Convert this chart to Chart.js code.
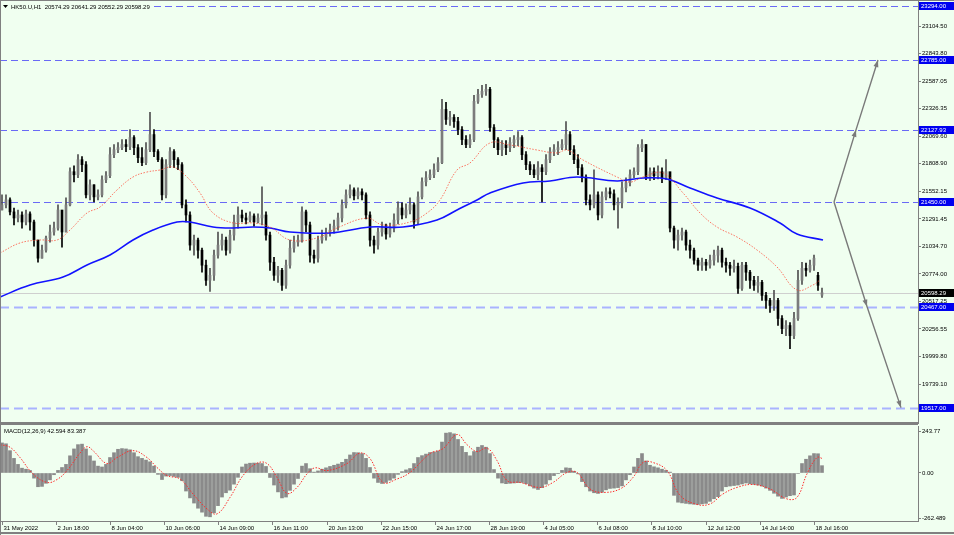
<!DOCTYPE html>
<html>
<head>
<meta charset="utf-8">
<script src="https://cdn.jsdelivr.net/npm/chart.js@4.4.1/dist/chart.umd.min.js"></script>
<style>
  html, body { margin: 0; padding: 0; background: #f0fff0; }
  #wrap { position: relative; width: 954px; height: 535px; overflow: hidden; }
  #main { position: absolute; left: 0; top: 0; }
  #macd { position: absolute; left: 0; top: 424px; }
</style>
</head>
<body>
<div id="wrap">
  <canvas id="main" width="954" height="424"></canvas>
  <canvas id="macd" width="954" height="111"></canvas>
</div>
<script>
var BG = '#f0fff0';
var FRAME = '#808080';
var FONT = '6px "Liberation Sans", Arial, sans-serif';

// HK50 H1 candles, one per bar
var opens = [
  21375,21423,21470,21357,21300,21328,21262,21338,21262,21092,
  20922,20997,21111,21168,21205,21375,21168,21423,21735,21706,
  21848,21801,21517,21612,21498,21517,21659,21697,21895,21942,
  21961,21990,21971,22056,21961,21867,21820,21942,22084,21924,
  21848,21517,21801,21924,21848,21801,21423,21328,21045,21092,
  20997,20856,20714,20761,20950,21045,21092,20997,21139,21262,
  21328,21300,21281,21319,21262,21300,21328,21139,20884,20761,
  20808,20667,20856,21016,21073,21092,21357,21234,20950,20922,
  21092,21120,21158,21186,21224,21300,21423,21517,21564,21508,
  21546,21517,21328,21092,21045,21168,21205,21149,21205,21281,
  21394,21328,21375,21423,21262,21498,21640,21678,21706,21753,
  21820,22320,22226,22245,22207,22131,22037,21990,22037,22396,
  22462,22491,22510,22150,22037,21942,21990,21961,22009,22037,
  22056,21895,21801,21753,21706,21772,21735,21848,21924,21942,
  21961,21990,22084,21942,21848,21772,21678,21470,21423,21517,
  21328,21498,21546,21527,21423,21442,21583,21631,21706,21735,
  21961,21990,21678,21735,21697,21735,21678,21735,21205,21092,
  21139,21168,21045,20997,20903,20856,20884,20856,20903,20950,
  20997,20884,20856,20827,20846,20638,20856,20790,20714,20667,
  20695,20572,20525,20478,20525,20355,20260,20289,20194,20355,
  20714,20827,20808,20856,20761,20574.29
];
var highs = [
  21517,21517,21489,21394,21375,21357,21375,21357,21281,21092,
  21045,21130,21234,21262,21423,21328,21489,21772,21791,21895,
  21876,21829,21659,21612,21564,21697,21735,21961,21990,22009,
  22037,22037,22131,22075,21990,21961,22009,22292,22131,21942,
  21867,21848,21961,21942,21867,21820,21470,21357,21139,21111,
  21016,20903,20827,20997,21168,21149,21120,21186,21328,21404,
  21375,21347,21357,21338,21338,21593,21357,21168,20931,20846,
  20827,20903,21092,21130,21139,21404,21375,21262,20997,21130,
  21186,21205,21243,21281,21347,21470,21564,21612,21583,21583,
  21574,21536,21357,21130,21205,21262,21243,21253,21338,21451,
  21442,21432,21489,21442,21546,21678,21735,21753,21810,21867,
  22415,22387,22302,22273,22245,22160,22075,22084,22453,22510,
  22547,22557,22528,22179,22056,22028,22028,22056,22075,22113,
  22075,21924,21829,21801,21829,21801,21895,21961,21990,22018,
  22037,22207,22113,21980,21895,21801,21706,21517,21753,21546,
  21546,21583,21583,21564,21489,21640,21678,21753,21772,21990,
  22037,21990,21772,21772,21791,21772,21848,21706,21224,21186,
  21205,21186,21092,21016,20922,20922,20912,20950,20997,21035,
  21016,20922,20884,20903,20875,20884,20884,20808,20752,20752,
  20714,20601,20544,20619,20544,20383,20336,20317,20412,20808,
  20884,20875,20903,20950,20790,20641.29
];
var lows = [
  21375,21394,21328,21234,21262,21205,21234,21186,21035,20884,
  20922,20979,21073,21139,21186,21026,21168,21413,21640,21678,
  21735,21489,21470,21451,21470,21498,21631,21678,21867,21914,
  21942,21924,21942,21895,21820,21791,21801,21924,21876,21829,
  21470,21489,21772,21772,21753,21394,21262,20997,20950,20922,
  20790,20667,20610,20714,20922,20997,20950,20969,21092,21205,
  21262,21243,21262,21224,21253,21234,21092,20808,20714,20695,
  20619,20638,20827,20979,21035,21073,21168,20884,20875,20884,
  21064,21092,21130,21158,21186,21262,21394,21489,21470,21479,
  21470,21290,21035,20969,21007,21130,21101,21120,21168,21243,
  21290,21300,21338,21205,21243,21479,21602,21659,21678,21735,
  21810,22179,22169,22150,22084,21990,21961,21961,22018,22377,
  22434,22453,22113,21961,21895,21886,21895,21924,21961,21980,
  21848,21753,21706,21678,21659,21451,21706,21820,21886,21895,
  21942,21942,21895,21810,21706,21640,21423,21375,21394,21281,
  21300,21470,21489,21375,21205,21394,21546,21602,21678,21706,
  21924,21659,21650,21659,21668,21631,21659,21168,21016,20997,
  21092,20997,20922,20865,20808,20808,20808,20827,20856,20884,
  20837,20790,20761,20790,20591,20619,20714,20638,20619,20601,
  20525,20449,20412,20430,20289,20213,20194,20071,20166,20336,
  20676,20752,20790,20808,20619,20552.29
];
var closes = [
  21423,21470,21357,21300,21328,21262,21338,21262,21092,20922,
  20997,21111,21168,21205,21375,21168,21423,21735,21706,21848,
  21801,21517,21612,21498,21517,21659,21697,21895,21942,21961,
  21990,21971,22056,21961,21867,21820,21942,22084,21924,21848,
  21517,21801,21924,21848,21801,21423,21328,21045,21092,20997,
  20856,20714,20761,20950,21045,21092,20997,21139,21262,21328,
  21300,21281,21319,21262,21300,21328,21139,20884,20761,20808,
  20667,20856,21016,21073,21092,21357,21234,20950,20922,21092,
  21120,21158,21186,21224,21300,21423,21517,21564,21508,21546,
  21517,21328,21092,21045,21168,21205,21149,21205,21281,21394,
  21328,21375,21423,21262,21498,21640,21678,21706,21753,21820,
  22320,22226,22245,22207,22131,22037,21990,22037,22396,22462,
  22491,22510,22150,22037,21942,21990,21961,22009,22037,22056,
  21895,21801,21753,21706,21772,21735,21848,21924,21942,21961,
  21990,22084,21942,21848,21772,21678,21470,21423,21517,21328,
  21498,21546,21527,21423,21442,21583,21631,21706,21735,21961,
  21990,21678,21735,21697,21735,21678,21735,21205,21092,21139,
  21168,21045,20997,20903,20856,20884,20856,20903,20950,20997,
  20884,20856,20827,20846,20638,20856,20790,20714,20667,20695,
  20572,20525,20478,20525,20355,20260,20289,20194,20355,20714,
  20827,20808,20856,20922,20667,20598.29
];

// MACD(12,26,9) histogram, one value per bar
var macdHist = [
  175,170,130,85,50,28,22,15,-30,-80,
  -78,-60,-40,-10,15,32,50,100,140,165,
  168,140,100,70,40,35,50,90,118,138,
  142,140,135,118,95,85,75,65,40,-8,
  -38,-18,-15,-20,-25,-45,-105,-145,-175,-205,
  -228,-252,-255,-232,-190,-140,-115,-100,-65,-25,
  35,52,57,58,57,55,38,-26,-70,-110,
  -145,-140,-101,-65,-32,40,55,25,5,12,
  22,30,38,45,52,62,80,105,119,118,
  113,85,32,-30,-55,-61,-55,-42,-30,-8,
  8,18,26,55,90,101,110,119,122,128,
  180,232,235,228,195,155,120,100,125,150,
  160,150,113,20,-30,-58,-62,-60,-58,-56,
  -55,-62,-75,-88,-96,-85,-65,-40,-15,-2,
  15,30,28,10,-5,-50,-80,-105,-115,-119,
  -112,-98,-90,-88,-85,-75,-40,-10,35,85,
  113,70,45,36,30,22,15,5,-130,-170,
  -174,-177,-180,-182,-183,-180,-177,-165,-150,-138,
  -105,-80,-76,-73,-70,-64,-58,-62,-66,-70,
  -76,-88,-101,-118,-135,-148,-140,-132,-128,-3,
  55,80,100,113,112,42.594
];

// moving averages and signal line, sampled along the drawn curves (bar index, value)
var slowMaX = [-0.5,7,15.25,21.25,27,32.75,37.75,43.75,47,52.75,57.75,62.75,67,72,82,92,100.25,108.75,113.75,118.75,122,130.25,137,143.75,153.75,160.25,166.25,172,178.75,187,194.5,198.75,205.25];
var slowMaY = [20557,20670,20745,20858,20952,21093,21187,21262,21262,21215,21206,21215,21206,21168,21159,21215,21215,21281,21375,21469,21535,21629,21648,21685,21648,21676,21666,21582,21488,21394,21253,21149,21093];
var fastMaX = [-0.5,4.5,9.5,13.75,17,21.25,24.5,28.75,32.75,36.25,39.5,42.75,46.25,49.5,52.75,57.75,62.75,67,72,78.75,83.75,91.25,95.25,102,106.25,109.5,113.75,117,122,127,133.75,138.75,141.25,145.25,153.75,157,160.25,165.25,170.25,174.5,178.75,183.75,188.75,193.75,198.75,202.75,204.5];
var fastMaY = [20971,21065,21093,21093,21187,21347,21403,21563,21685,21732,21751,21779,21685,21535,21347,21253,21253,21215,21093,21112,21206,21298,21234,21262,21347,21469,21751,21817,22005,21986,21939,21911,21939,21845,21685,21638,21685,21723,21535,21347,21215,21121,20999,20839,20623,20670,20717];
var signalX = [-0.5,2,4.5,7.75,11.25,13.75,16.25,19.5,21.25,22.75,26.25,28.75,32.75,36.25,38.75,41.25,44.5,47.75,51.25,53.75,57,60.25,63.75,66.25,68.75,71.25,73.75,76.25,78.25,81.25,86.25,89.5,92,95.25,98.75,102,107,110.25,113.75,116.25,118.75,121.25,123.75,126.25,129.5,134.5,137.75,141.25,143.75,147,150.25,154.5,157.75,160.25,162.75,166.25,169.5,173.75,177,180.25,183.75,187.75,192,196.25,198.75,201.25,203.75,205.25];
var signalY = [165,150,90,-5,-55,-38,14,116,153,130,55,90,130,90,32,-15,-35,-122,-209,-238,-142,-15,57,55,-26,-119,-84,-5,30,14,55,116,84,-55,-35,3,113,142,224,165,125,145,72,-44,-55,-84,-55,3,3,-93,-113,-93,-26,61,61,14,-130,-183,-180,-122,-84,-67,-93,-151,-142,-5,90,83];

// axes
var priceTicks = [23104.50,22843.80,22587.05,22326.35,22069.60,21808.90,21552.15,21291.45,21034.70,20774.00,20517.25,20256.55,19999.80,19739.10];
var macdTicks = [243.77, 0, -262.489];
var macdTickLabels = ['243.77', '0.00', '-262.489'];
var timeLabels = ['31 May 2022','2 Jun 18:00','8 Jun 04:00','10 Jun 06:00','14 Jun 09:00','16 Jun 11:00','20 Jun 13:00','22 Jun 15:00','24 Jun 17:00','28 Jun 19:00','4 Jul 05:00','6 Jul 08:00','8 Jul 10:00','12 Jul 12:00','14 Jul 14:00','18 Jul 16:00'];
var timePos = [0,13.5,27,40.5,54,67.5,81.25,94.75,108.25,121.75,135.25,148.75,162.25,176,189.5,203];

// horizontal levels and projection arrows
var levelPrices = [23294, 22785, 22127.93, 21450, 20467, 19517];
var levelLabels = ['23294.00','22785.00','22127.93','21450.00','20467.00','19517.00'];
var lastPrice = 20598.29;
var upArrowX = [208, 213.5, 219];
var upArrowY = [21450, 22127.93, 22785];
var downArrowX = [208, 216.25, 224.75];
var downArrowY = [21450, 20467, 19517];

function pts(xs, ys) {
  return xs.map(function (x, i) { return { x: x, y: ys[i] }; });
}

var candleColor = closes.map(function (c, i) { return c >= opens[i] ? '#7c7c7c' : '#000000'; });
var wickColor = closes.map(function (c, i) { return c >= opens[i] ? '#505050' : '#000000'; });

var xScale = { type: 'linear', min: -0.5, max: 229, display: false, offset: false };

function rightAxis(min, max, ticks, labelFn) {
  return {
    position: 'right', min: min, max: max,
    afterFit: function (s) { s.width = 36; s.paddingTop = 0; s.paddingBottom = 0; },
    afterBuildTicks: function (s) { s.ticks = ticks.map(function (v) { return { value: v }; }); },
    ticks: { autoSkip: false, color: '#000', padding: 1,
      font: { family: '"Liberation Sans", Arial, sans-serif', size: 6 },
      callback: labelFn },
    grid: { drawOnChartArea: false, drawTicks: true, tickLength: 3, color: FRAME },
    border: { color: FRAME }
  };
}

function line(ctx, x1, y1, x2, y2) {
  ctx.beginPath(); ctx.moveTo(x1, y1); ctx.lineTo(x2, y2); ctx.stroke();
}

var mainDeco = {
  id: 'mainDeco',
  beforeDraw: function (chart) {
    var ctx = chart.ctx;
    ctx.save(); ctx.fillStyle = BG; ctx.fillRect(0, 0, chart.width, chart.height); ctx.restore();
  },
  beforeDatasetsDraw: function (chart) {
    var ctx = chart.ctx, a = chart.chartArea, ys = chart.scales.y;
    ctx.save();
    ctx.strokeStyle = '#cfcfcf'; ctx.lineWidth = 1;
    var py = Math.round(ys.getPixelForValue(lastPrice)) + 0.5;
    line(ctx, a.left, py, a.right, py);
    levelPrices.forEach(function (p, i) {
      var y = Math.round(ys.getPixelForValue(p)) + 0.5;
      if (i < 4) { ctx.strokeStyle = '#6a6af5'; ctx.lineWidth = 1; ctx.setLineDash([7, 4]); }
      else { ctx.strokeStyle = '#a9b3ff'; ctx.lineWidth = 2; ctx.setLineDash([9, 5]); }
      line(ctx, a.left, y, a.right, y);
    });
    ctx.restore();
  },
  afterDatasetsDraw: function (chart) {
    var ctx = chart.ctx;
    ctx.save();
    ctx.fillStyle = '#7a7a7a';
    [3, 4].forEach(function (di) {
      var p = chart.getDatasetMeta(di).data;
      for (var k = 1; k < p.length; k++) {
        var ang = Math.atan2(p[k].y - p[k - 1].y, p[k].x - p[k - 1].x);
        ctx.beginPath();
        ctx.moveTo(p[k].x, p[k].y);
        ctx.lineTo(p[k].x - 7 * Math.cos(ang) + 2.5 * Math.sin(ang), p[k].y - 7 * Math.sin(ang) - 2.5 * Math.cos(ang));
        ctx.lineTo(p[k].x - 7 * Math.cos(ang) - 2.5 * Math.sin(ang), p[k].y - 7 * Math.sin(ang) + 2.5 * Math.cos(ang));
        ctx.closePath(); ctx.fill();
      }
    });
    ctx.restore();
  },
  afterDraw: function (chart) {
    var ctx = chart.ctx, a = chart.chartArea, ys = chart.scales.y;
    ctx.save();
    ctx.font = FONT; ctx.textBaseline = 'middle';
    // price tags on the axis
    levelPrices.forEach(function (p, i) {
      var y = Math.round(ys.getPixelForValue(p));
      ctx.fillStyle = '#0000f0'; ctx.fillRect(a.right + 1, y - 4, chart.width - a.right - 1, 8);
      ctx.fillStyle = '#ffffff'; ctx.fillText(levelLabels[i], a.right + 3, y + 0.5);
    });
    var ly = Math.round(ys.getPixelForValue(lastPrice));
    ctx.fillStyle = '#000000'; ctx.fillRect(a.right + 1, ly - 4, chart.width - a.right - 1, 8);
    ctx.fillStyle = '#ffffff'; ctx.fillText(lastPrice.toFixed(2), a.right + 3, ly + 0.5);
    // title on its own backing so the top level line does not cross it
    var title = 'HK50.U,H1  ' + [opens[205], highs[205], lows[205], closes[205]].map(function (v) { return v.toFixed(2); }).join(' ');
    ctx.fillStyle = BG;
    ctx.fillRect(1, 2, ctx.measureText(title).width + 14, 9);
    ctx.fillStyle = '#000000';
    ctx.beginPath(); ctx.moveTo(3, 5); ctx.lineTo(8, 5); ctx.lineTo(5.5, 8); ctx.closePath(); ctx.fill();
    ctx.fillText(title, 11, 7);
    // frame
    ctx.strokeStyle = FRAME; ctx.lineWidth = 1;
    line(ctx, 0, 0.5, chart.width, 0.5);
    line(ctx, 0.5, 0, 0.5, chart.height);
    ctx.lineWidth = 2;
    line(ctx, 0, chart.height - 1, a.right, chart.height - 1);
    ctx.restore();
  }
};

new Chart(document.getElementById('main'), {
  type: 'bar',
  data: {
    datasets: [
      { type: 'line', data: pts(fastMaX, fastMaY), borderColor: 'rgba(255,70,50,0.75)', borderWidth: 1,
        borderDash: [1.5, 1.5], pointRadius: 0, tension: 0.4, order: 0 },
      { type: 'line', data: pts(slowMaX, slowMaY), borderColor: '#1212ff', borderWidth: 1.6,
        pointRadius: 0, tension: 0.4, order: 0 },
      { type: 'bar', data: highs.map(function (h, i) { return { x: i, y: [lows[i], h] }; }),
        backgroundColor: wickColor, barThickness: 1, grouped: false, order: 2 },
      { type: 'line', data: pts(upArrowX, upArrowY), borderColor: '#7a7a7a', borderWidth: 1.4,
        pointRadius: 0, tension: 0, order: 0 },
      { type: 'line', data: pts(downArrowX, downArrowY), borderColor: '#7a7a7a', borderWidth: 1.4,
        pointRadius: 0, tension: 0, order: 0 },
      { type: 'bar', data: opens.map(function (o, i) { return { x: i, y: [o, closes[i]] }; }),
        backgroundColor: candleColor, barThickness: 2, minBarLength: 1, grouped: false, order: 1 }
    ]
  },
  options: {
    responsive: false, animation: false, events: [],
    layout: { padding: 0 },
    plugins: { legend: { display: false }, tooltip: { enabled: false } },
    scales: {
      x: xScale,
      y: rightAxis(19363.3, 23348.9, priceTicks, function (v) { return Number(v).toFixed(2); })
    }
  },
  plugins: [mainDeco]
});

var macdDeco = {
  id: 'macdDeco',
  beforeDraw: function (chart) {
    var ctx = chart.ctx;
    ctx.save(); ctx.fillStyle = BG; ctx.fillRect(0, 0, chart.width, chart.height); ctx.restore();
  },
  afterDraw: function (chart) {
    var ctx = chart.ctx, a = chart.chartArea, xs = chart.scales.x;
    ctx.save();
    ctx.font = FONT; ctx.textBaseline = 'middle'; ctx.fillStyle = '#000000';
    ctx.fillText('MACD(12,26,9) 42.594 83.387', 4, 7);
    ctx.strokeStyle = FRAME; ctx.lineWidth = 1;
    timeLabels.forEach(function (t, i) {
      var x = Math.round(xs.getPixelForValue(timePos[i])) + 0.5;
      line(ctx, x, a.bottom, x, a.bottom + 4);
      ctx.fillText(t, x + 1, a.bottom + 7);
    });
    line(ctx, 0, a.bottom + 0.5, a.right, a.bottom + 0.5);
    line(ctx, 0, 0.5, a.right, 0.5);
    line(ctx, 0.5, 0, 0.5, chart.height);
    ctx.lineWidth = 2;
    line(ctx, 0, chart.height - 2, chart.width, chart.height - 2);
    ctx.restore();
  }
};

new Chart(document.getElementById('macd'), {
  type: 'bar',
  data: {
    datasets: [
      { type: 'line', data: pts(signalX, signalY), borderColor: '#ff2a2a', borderWidth: 1,
        borderDash: [1.5, 1.5], pointRadius: 0, tension: 0.4, order: 0 },
      { type: 'bar', data: macdHist.map(function (v, i) { return { x: i, y: v }; }),
        backgroundColor: '#8a8a8a', barThickness: 3, grouped: false, order: 1 }
    ]
  },
  options: {
    responsive: false, animation: false, events: [],
    layout: { padding: { top: 2, bottom: 14, left: 0, right: 0 } },
    plugins: { legend: { display: false }, tooltip: { enabled: false } },
    scales: {
      x: xScale,
      y: rightAxis(-279.4, 273.5, macdTicks, function (v, i) { return macdTickLabels[i]; })
    }
  },
  plugins: [macdDeco]
});
</script>
</body>
</html>
